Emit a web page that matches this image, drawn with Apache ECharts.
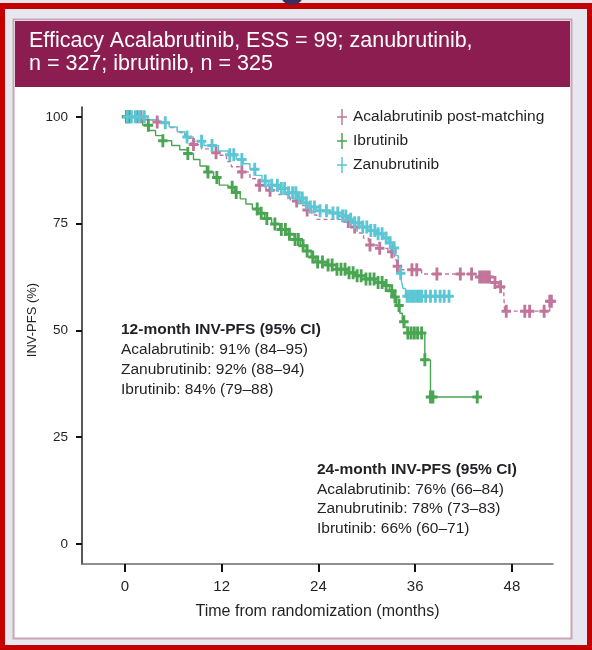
<!DOCTYPE html>
<html>
<head>
<meta charset="utf-8">
<script src="https://cdn.jsdelivr.net/npm/echarts@6/dist/echarts.min.js"></script>
<style>
  html, body { margin: 0; padding: 0; background: #ffffff; }
  #chart { width: 592px; height: 650px; }
</style>
</head>
<body>
<div id="chart"></div>
<script>
// Axis ticks
const ticksX = [0, 12, 24, 36, 48];
const ticksY = [0, 25, 50, 75, 100];

// Kaplan-Meier steps: [month, INV-PFS %] after each drop
const acalaSteps = [
  [0, 100], [2.5, 99.3], [3.5, 98.8], [5.5, 97.5], [6.5, 96.3], [7.5, 95], [8.2, 93.5],
  [9.5, 92.5], [10.8, 91.6], [11.5, 91], [12.6, 89.5], [13.2, 88.3], [14.2, 87.1],
  [15.5, 85.5], [16.5, 84], [17.5, 82.8], [19, 81.8], [20.5, 80.3], [21.8, 79.2],
  [22.5, 78.2], [23.2, 77], [23.8, 76], [27.3, 75.5], [28, 74.2], [28.8, 72.8],
  [29.6, 71.6], [30.2, 70], [31.3, 69.2], [32.6, 68.4], [33.4, 66.5], [33.7, 65],
  [33.9, 64.2], [36.8, 63.2], [43.8, 62.5], [45.3, 61.2], [46.3, 60.2], [47.0, 58],
  [47.1, 54.5], [52.7, 56.8], [53.0, 56.8]
];
const ibruSteps = [
  [0, 100], [1.2, 99.2], [2.2, 98], [3, 96.8], [3.8, 95.6], [4.7, 94.4], [5.8, 93.3],
  [6.8, 92.3], [7.8, 91.4], [8.5, 90], [9.3, 88.5], [10.1, 87.1], [11, 85.8], [11.7, 84],
  [12.8, 83.5], [13.6, 82.3], [14.3, 80.8], [15, 79.6], [15.8, 78.4], [16.6, 77.4],
  [17.3, 76.2], [18.2, 74.9], [19.2, 73.6], [20.1, 72.5], [21, 71.3], [21.8, 69.8],
  [22.5, 68.6], [23.1, 67.2], [23.6, 66], [25, 65.3], [26.2, 64.3], [27.5, 63.5],
  [28.6, 62.8], [29.8, 62], [31, 61.2], [32.2, 60.5], [32.8, 59.3], [33.3, 57.8],
  [33.7, 55.8], [34.1, 54], [34.4, 52], [34.7, 50.8], [35, 49.4], [37.2, 43.1],
  [37.9, 34.4], [43.7, 34.4]
];
const zanuSteps = [
  [0, 100], [2.8, 99.3], [4.2, 98.6], [5.5, 97.6], [6.5, 96.5], [7.4, 95.3], [8.5, 94.3],
  [9.8, 93.3], [11.6, 92], [12.8, 91.1], [13.8, 90], [14.7, 89], [15.5, 87.7],
  [16.2, 86.3], [17, 85], [17.8, 84], [19, 83.2], [20.2, 82.2], [21.3, 81], [22.2, 79.8],
  [23, 78.9], [23.8, 78], [25.5, 77.5], [26.5, 76.8], [27.6, 76], [28.5, 75.2],
  [29.3, 74.2], [30.1, 73.4], [31.2, 72.6], [32.1, 71.6], [32.7, 70.5], [33.2, 69.3],
  [33.6, 67.5], [33.9, 65.5], [34.1, 63.4], [34.3, 61.5], [34.5, 59.8], [34.8, 58],
  [40.3, 58]
];

// Censoring times (months)
const acalaCensor = [0.2, 0.6, 1.5, 2.0, 4.0, 8.5, 11.3, 14.5, 16.7, 18.0, 21.3, 22.6,
  27.7, 28.5, 30.4, 31.6, 33.1, 33.8, 35.6, 36.2, 38.7, 41.6, 43.0, 44.0, 44.3, 44.6,
  44.9, 45.2, 45.9, 46.6, 47.3, 49.6, 50.2, 52.0, 52.7, 52.9];
const ibruCensor = [0.2, 0.5, 2.9, 4.7, 7.8, 10.3, 11.4, 13.3, 13.8, 16.4, 16.9, 17.6,
  18.6, 19.4, 19.9, 20.4, 21.1, 21.5, 22.1, 22.6, 23.3, 23.9, 24.5, 25.2, 25.7, 26.3,
  26.8, 27.3, 27.8, 28.3, 28.8, 29.3, 29.9, 30.4, 30.9, 31.4, 31.9, 32.4, 33.1, 33.5,
  34.0, 34.6, 35.1, 35.5, 35.9, 36.3, 36.8, 37.2, 37.9, 38.2, 43.7];
const zanuCensor = [0.3, 0.8, 1.3, 1.8, 2.4, 5.0, 7.7, 9.5, 10.8, 13.0, 13.5, 14.5, 16.1,
  17.4, 18.2, 18.9, 19.4, 19.8, 20.3, 20.8, 21.2, 21.6, 22.0, 22.5, 23.0, 23.5, 24.2,
  25.0, 25.8, 26.4, 27.0, 27.4, 28.0, 28.5, 29.0, 29.5, 30.0, 30.5, 31.0, 31.4, 31.9,
  32.4, 32.9, 33.4, 34.2, 35.0, 35.3, 35.6, 35.9, 36.2, 36.5, 36.8, 37.3, 37.9, 38.5,
  39.1, 39.6, 40.2];

const names = ['Acalabrutinib post-matching', 'Ibrutinib', 'Zanubrutinib'];
const colors = ['#c2759a', '#4aa553', '#5cc6d4'];

const summary12 = ['12-month INV-PFS (95% CI)', 'Acalabrutinib: 91% (84–95)',
  'Zanubrutinib: 92% (88–94)', 'Ibrutinib: 84% (79–88)'];
const summary24 = ['24-month INV-PFS (95% CI)', 'Acalabrutinib: 76% (66–84)',
  'Zanubrutinib: 78% (73–83)', 'Ibrutinib: 66% (60–71)'];

// survival value of a step curve at time t
function survAt(steps, t) {
  let s = steps[0][1];
  for (const [tt, v] of steps) { if (tt <= t) s = v; else break; }
  return s;
}

const plusBold = 'path://M3.5,0h3v5h3.5v3h-3.5v5h-3v-5h-3.5v-3h3.5z';
const plusThin = 'path://M4.25,0h1.5v7.25h4.25v1.5h-4.25v7.25h-1.5v-7.25h-4.25v-1.5h4.25z';
const FONT = '"Liberation Sans", Arial, Helvetica, sans-serif';
const TXT = '#231f26';

const chart = echarts.init(document.getElementById('chart'), null, { renderer: 'canvas' });

function curve(i, steps, dashed) {
  return {
    name: names[i], type: 'line', step: 'end', data: steps, symbol: 'none',
    lineStyle: { color: colors[i], width: 1.4, type: dashed ? [4, 3] : 'solid' },
    itemStyle: { color: colors[i] }, z: 3, animation: false
  };
}
function censor(i, steps, times) {
  return {
    name: names[i], type: 'scatter', symbol: plusBold, symbolSize: [9.5, 13],
    data: times.map(t => [t, survAt(steps, t)]),
    itemStyle: { color: colors[i], opacity: 1 }, z: 4, animation: false
  };
}

const graphics = [
  // frame
  { type: 'rect', shape: { x: 0, y: 0, width: 592, height: 650 }, style: { fill: '#c40000' }, z: 0 },
  { type: 'rect', shape: { x: 0, y: 0, width: 592, height: 3 }, style: { fill: '#e6e6ec' }, z: 0 },
  { type: 'circle', shape: { cx: 292, cy: -7, r: 12 }, style: { fill: '#3b2c5c' }, z: 0 },
  { type: 'rect', shape: { x: 5, y: 9, width: 582, height: 636 }, style: { fill: '#e7e7ef' }, z: 0 },
  { type: 'rect', shape: { x: 13.5, y: 19.5, width: 558, height: 619 },
    style: { fill: '#ffffff', stroke: '#c9a6b6', lineWidth: 2 }, z: 0 },
  { type: 'rect', shape: { x: 15, y: 21, width: 555, height: 66 }, style: { fill: '#8b1d51' }, z: 0 },
  { type: 'text', x: 29, y: 41, z: 10, style: { text: 'Efficacy Acalabrutinib, ESS = 99; zanubrutinib,',
      fill: '#ffffff', font: '21.5px ' + FONT, textVerticalAlign: 'middle' } },
  { type: 'text', x: 29, y: 64, z: 10, style: { text: 'n = 327; ibrutinib, n = 325',
      fill: '#ffffff', font: '21.5px ' + FONT, textVerticalAlign: 'middle' } },
  // y axis title
  { type: 'text', x: 32, y: 320, rotation: Math.PI / 2, z: 10, style: { text: 'INV-PFS (%)',
      fill: TXT, font: '13px ' + FONT, textAlign: 'center', textVerticalAlign: 'middle' } }
];
summary12.forEach((s, k) => graphics.push({ type: 'text', x: 121, y: 330 + k * 20, z: 10,
  style: { text: s, fill: TXT, font: (k === 0 ? 'bold ' : '') + '15.5px ' + FONT, textVerticalAlign: 'middle' } }));
summary24.forEach((s, k) => graphics.push({ type: 'text', x: 317, y: 470 + k * 19.6, z: 10,
  style: { text: s, fill: TXT, font: (k === 0 ? 'bold ' : '') + '15.5px ' + FONT, textVerticalAlign: 'middle' } }));

chart.setOption({
  animation: false,
  graphic: graphics,
  grid: { left: 82, right: 39, top: 107, bottom: 86, containLabel: false },
  legend: {
    orient: 'vertical', left: 337, top: 109, itemWidth: 10, itemHeight: 16, itemGap: 8,
    padding: 0, selectedMode: false,
    textStyle: { fontSize: 15.5, fontFamily: FONT, color: TXT, padding: [0, 0, 0, 1] },
    data: names.map((n, i) => ({ name: n, icon: plusThin, itemStyle: { color: colors[i], borderWidth: 0 } }))
  },
  xAxis: {
    type: 'value', min: -5.33, max: 53.1,
    name: 'Time from randomization (months)', nameLocation: 'middle', nameGap: 40,
    nameTextStyle: { fontSize: 16, fontFamily: FONT, color: TXT },
    axisLine: { show: true, onZero: false, lineStyle: { color: '#6a6a6a', width: 1.5 } },
    axisTick: { show: true, customValues: ticksX, length: 8, lineStyle: { color: '#111', width: 2 } },
    axisLabel: { customValues: ticksX, margin: 15, fontSize: 15, fontFamily: FONT, color: TXT },
    splitLine: { show: false }
  },
  yAxis: {
    type: 'value', min: -4.7, max: 102.3,
    axisLine: { show: true, onZero: false, lineStyle: { color: '#222', width: 1.5 } },
    axisTick: { show: true, customValues: ticksY, length: 6, lineStyle: { color: '#111', width: 2 } },
    axisLabel: { customValues: ticksY, margin: 14, fontSize: 13.5, fontFamily: FONT, color: TXT },
    splitLine: { show: false }
  },
  series: [
    curve(0, acalaSteps, true), curve(1, ibruSteps, false), curve(2, zanuSteps, false),
    censor(0, acalaSteps, acalaCensor), censor(1, ibruSteps, ibruCensor), censor(2, zanuSteps, zanuCensor)
  ]
});
</script>
</body>
</html>
